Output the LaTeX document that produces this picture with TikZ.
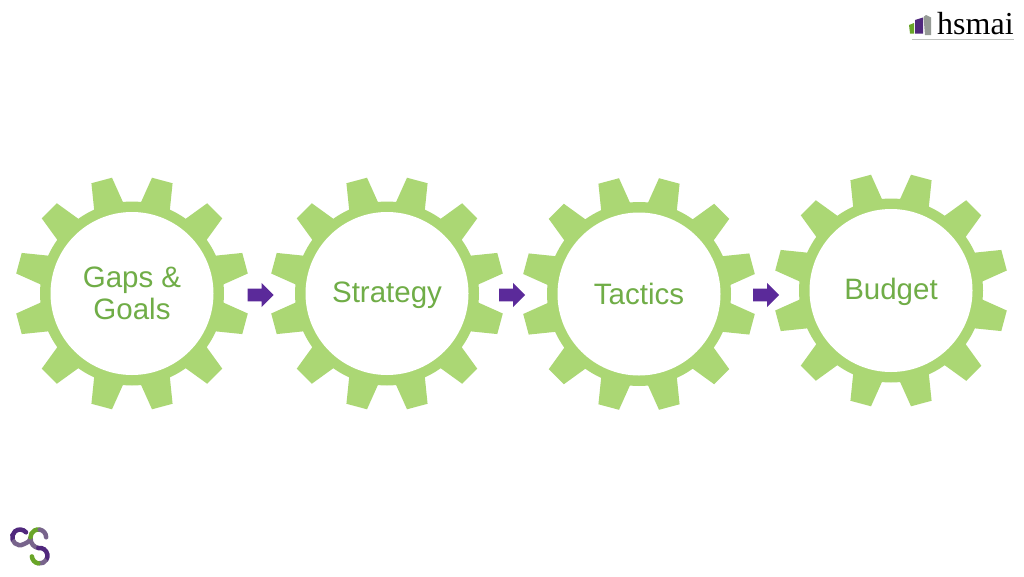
\documentclass[tikz,border=0pt]{standalone}
\usepackage{fontspec}
\setmainfont{Liberation Sans}
\newfontfamily\logofont{Liberation Serif}
\usetikzlibrary{shapes.arrows}
\definecolor{gearfill}{RGB}{171,215,116}
\definecolor{geartext}{RGB}{112,173,71}
\definecolor{arrowfill}{RGB}{91,42,154}
\definecolor{logogreen}{RGB}{105,165,40}
\definecolor{logopurple}{RGB}{80,40,125}
\definecolor{logogray}{RGB}{120,100,140}
\definecolor{logobar}{RGB}{150,155,150}
\tikzset{
  x=1pt,y=1pt,
  hub/.style={circle,fill=white,minimum size=163pt,inner sep=0pt,align=center,text=geartext,font=\fontsize{29.5pt}{32pt}\selectfont},
  basedrop/.style={text height=#1*2pt,text depth=0pt},
  blockarrow/.style={single arrow,fill=arrowfill,draw=none,minimum height=26pt,minimum width=24pt,single arrow head extend=5.75pt,inner xsep=0pt,inner ysep=6.25pt,outer sep=0pt},
  logoarc/.style={line width=4.5pt,line cap=round},
  logocut/.style={line width=4.5pt,line cap=butt}
}
\newcommand{\gearshape}[2]{%
  \begin{scope}[shift={(#1,#2)}]
    \fill[gearfill] (5.7:92)
    \foreach \k in {0,...,11}{
      \pgfextra{\pgfmathsetmacro{\ang}{15+30*\k}}
      -- (\ang-9.3:92) -- (\ang-5.2:117.5) -- (\ang+5.2:117.5) -- (\ang+9.3:92)
      arc[start angle=\ang+9.3,end angle=\ang+20.7,radius=92]
    } -- cycle;
  \end{scope}}
\begin{document}
\begin{tikzpicture}
\useasboundingbox (0,0) rectangle (1024,-576);
\fill[white] (0,0) rectangle (1024,-576);
\gearshape{132}{-293.5}
\gearshape{387}{-293.5}
\gearshape{639}{-294}
\gearshape{891}{-290.5}
\node[hub,basedrop=25.6] (g1) at (132,-293.5) {Gaps \&\\Goals};
\node[hub,basedrop=9] (g2) at (387,-293.5) {Strategy};
\node[hub,basedrop=10.2] (g3) at (639,-294) {Tactics};
\node[hub,basedrop=9.4] (g4) at (891,-290.5) {Budget};
\node[blockarrow] (a1) at (257.5,-295) {};
\node[blockarrow] (a2) at (509,-295) {};
\node[blockarrow] (a3) at (763,-295) {};
% hsmai logo
\fill[logogreen] (909,-25) -- (914,-23) -- (914,-33.5) -- (910,-33.5) -- cycle;
\fill[logopurple] (915,-20) -- (923,-17.5) -- (923,-33.5) -- (915,-33.5) -- cycle;
\fill[logobar] (923.5,-17) -- (926,-15) -- (931,-17.5) -- (931,-35) -- (925,-35) -- cycle;
\node[font=\logofont\fontsize{32pt}{32pt}\selectfont,text=black,anchor=base west,inner sep=0pt] (logo) at (937,-34) {hsmai};
\draw[logobar!60,line width=0.8pt] (912,-39) -- (1014,-39);
% cs logo
\draw[logopurple,logoarc] (26,-532.3) arc[start angle=40,end angle=200,radius=7.8];
\draw[logogray,logocut] (12.7,-540) arc[start angle=200,end angle=300,radius=7.8] .. controls (27.5,-542.5) and (30.5,-541) .. (30.5,-537.3);
\draw[logogray,logocut] (30.5,-538) .. controls (30.5,-544) and (34,-547) .. (38.3,-548);
\draw[logogreen,logoarc] (30.5,-537.3) arc[start angle=180,end angle=80,radius=7.8];
\draw[logogray,logoarc] (39.7,-529.6) arc[start angle=80,end angle=0,radius=7.8];
\draw[logopurple,logoarc] (38.3,-548) arc[start angle=100,end angle=-30,radius=7.8];
\draw[logogray,logocut] (46.5,-559.6) arc[start angle=-30,end angle=-100,radius=7.8];
\draw[logogreen,logoarc] (38.3,-563.4) arc[start angle=-100,end angle=-175,radius=7.8];
\end{tikzpicture}
\end{document}
